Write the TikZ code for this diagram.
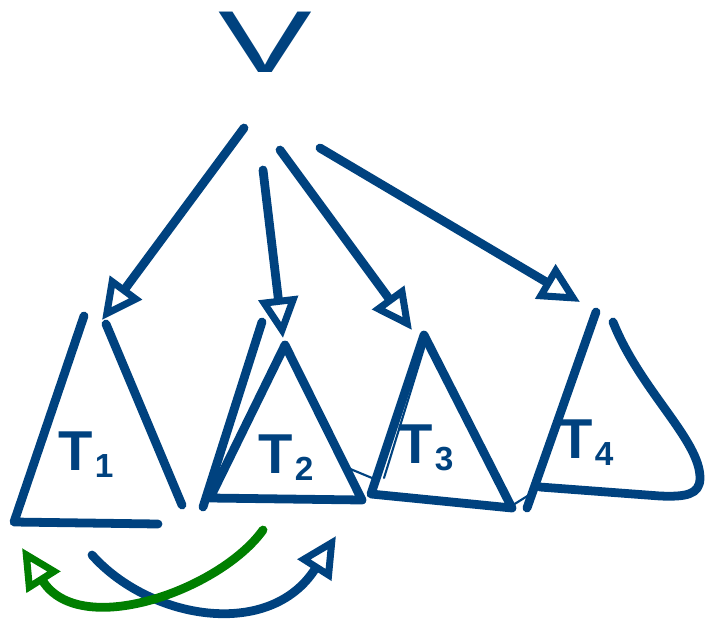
\documentclass[tikz,border=0pt]{standalone}
\usepackage{fontspec}
\setsansfont{Liberation Sans}
\usepackage{tikz}
\usetikzlibrary{arrows.meta,calc}
\definecolor{inkblue}{HTML}{00427F}
\definecolor{inkgreen}{HTML}{007F00}
\newcommand{\treename}[1]{T\kern1pt\raisebox{-4pt}{\fontsize{19}{19}\selectfont #1}}

\begin{document}
\begin{tikzpicture}[
    x=0.02cm, y=-0.02cm,
    every node/.style={font=\sffamily, text=inkblue, inner sep=0pt},
    pen/.style={draw=#1, line width=5pt, line cap=round, line join=round},
    pen/.default=inkblue,
    hairline/.style={draw=inkblue, line width=1.2pt, line cap=round},
    openhead/.style={-{Triangle[open, length=23pt, width=22pt, line width=4pt]}},
    treelabel/.style={font=\sffamily\bfseries\fontsize{32}{32}\selectfont}
]
    \useasboundingbox (0,0) rectangle (710,626);

    % Root
    \node[font=\sffamily\fontsize{50}{50}\selectfont, xscale=1.6] (V) at (265,42) {V};

    % Where the edges leave the root
    \coordinate (S1) at (244,128);
    \coordinate (S2) at (263,170);
    \coordinate (S3) at (280,150);
    \coordinate (S4) at (320,148);

    % Tops of the subtrees
    \coordinate (A1) at (102,320);
    \coordinate (A2) at (283,338);
    \coordinate (A3) at (412,330);
    \coordinate (A4) at (580,302);

    % Subtree T1
    \draw[pen] (84,316) -- (14,522) -- (158,524);
    \draw[pen] (106,324) -- (182,505);
    \node[treelabel] (T1) at (86,455) {\treename{1}};

    % Subtree T2
    \draw[pen] (262,322) -- (203,507);
    \draw[pen] (285,345) -- (210,498) -- (362,500) -- cycle;
    \node[treelabel] (T2) at (286,458) {\treename{2}};

    % Subtree T3
    \draw[pen] (424,335) -- (371,494) -- (512,508) -- cycle;
    \draw[hairline] (425,345) -- (384,478);
    \draw[hairline] (348,468) -- (372,478);
    \node[treelabel] (T3) at (426,448) {\treename{3}};

    % Subtree T4
    \draw[pen] (596,312) -- (527,508);
    \draw[pen] (613,322) .. controls (640,390) and (700,440) .. (700,478)
        .. controls (700,495) and (685,497) .. (660,496) -- (540,487);
    \draw[hairline] (513,505) -- (537,490);
    \node[treelabel] (T4) at (586,443) {\treename{4}};

    % Edges from the root
    \draw[pen, openhead] (S1) -- (A1);
    \draw[pen, openhead] (S2) -- (A2);
    \draw[pen, openhead] (S3) -- (A3);
    \draw[pen, openhead] (S4) -- (A4);

    % Swap of the first two subtrees
    \coordinate (P1) at (92,555);
    \coordinate (P2) at (336,536);
    \coordinate (Q1) at (263,530);
    \coordinate (Q2) at (22,548);
    \draw[pen, openhead] (P1) .. controls (150,620) and (270,640) .. (P2);
    \draw[pen=inkgreen, openhead] (Q1) .. controls (220,590) and (80,640) .. (Q2);
\end{tikzpicture}
\end{document}
